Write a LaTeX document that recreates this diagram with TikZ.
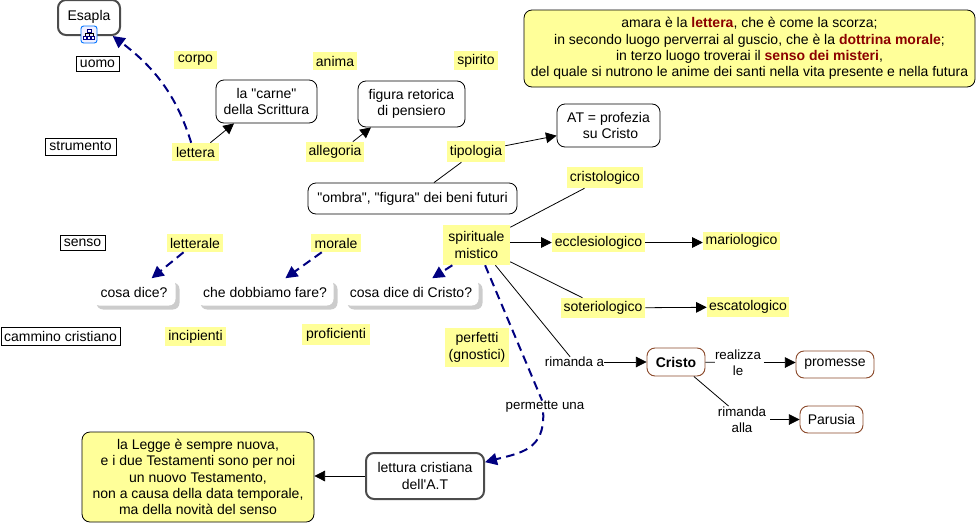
\documentclass[tikz,border=0pt]{standalone}
\usepackage{fontspec}
\setmainfont{Liberation Sans}[Ligatures=TeXOff]
\usetikzlibrary{arrows.meta, shadows, positioning}
\definecolor{noteyellow}{HTML}{FFFF99}
\definecolor{darkwine}{HTML}{8B0000}
\definecolor{rustline}{HTML}{8B4A2B}
\definecolor{navyline}{HTML}{000080}
\begin{document}
\begin{tikzpicture}[x=0.75pt, y=-0.75pt, font=\fontsize{10.5}{12.2}\selectfont,
boxsize/.style 2 args={minimum width=#1*0.75pt, minimum height=#2*0.75pt, inner sep=0pt, align=center},
tag/.style={fill=noteyellow},
frame/.style={draw=black, line width=0.6pt},
concept/.style={draw=black, rounded corners=6pt, line width=0.6pt},
main/.style={draw=black!70, rounded corners=6pt, line width=1.5pt},
person/.style={draw=rustline, rounded corners=6pt, line width=0.7pt},
note/.style={draw=black, fill=noteyellow, rounded corners=6pt, line width=0.6pt},
question/.style={fill=white, rounded corners=5pt, drop shadow={shadow xshift=3pt, shadow yshift=-3pt, fill=black!20, opacity=1}},
link/.style={inner sep=0pt, align=center, font=\fontsize{10}{12.4}\selectfont},
plain/.style={black, line width=0.6pt},
arrow/.style={plain, -{Triangle[length=8pt, width=8pt]}},
dashlink/.style={navyline, line width=1.5pt, dash pattern=on 6.5pt off 4pt},
darrow/.style={dashlink, -{Triangle[length=9pt, width=9pt, color=navyline]}}]
\useasboundingbox (0,0) rectangle (980,525);
\def\hl#1{\textcolor{darkwine}{\textbf{#1}}}
%left column
\node[main, boxsize={62}{35}] (esapla) at (89,17.5) {\raisebox{3pt}{Esapla}};
\node[frame, boxsize={43}{15}] (uomo) at (97.5,63.5) {uomo};
\node[frame, boxsize={71}{17}] (strumento) at (80.5,146.5) {strumento};
\node[frame, boxsize={45}{15}] (senso) at (82.5,242.5) {senso};
\node[frame, boxsize={119}{18}] (cammino) at (60.5,336) {cammino cristiano};
%icon on Esapla
\node[draw=blue!55!cyan, fill=blue!6, rounded corners=2pt, line width=0.7pt, boxsize={16}{17}] (esaplaicon) at (89,34.5) {};
\draw[black, line width=0.4pt] (85,33) -- (93,33) (89,30) -- (89,37) (85,33) -- (85,38) (93,33) -- (93,38);
\draw[navyline, fill=white, line width=0.4pt] (87,29) rectangle (91,32) (83.5,36) rectangle (86.5,39) (87.5,36) rectangle (90.5,39) (91.5,36) rectangle (94.5,39);
%row labels
\node[tag, boxsize={43}{18}] (corpo) at (195.5,60) {corpo};
\node[tag, boxsize={44}{18}] (anima) at (335,61) {anima};
\node[tag, boxsize={44}{19}] (spirito) at (476,60.5) {spirito};
\node[tag, boxsize={47}{18}] (lettera) at (195.5,152) {lettera};
\node[tag, boxsize={58}{20}] (allegoria) at (335,152) {allegoria};
\node[tag, boxsize={58}{21}] (tipologia) at (476,151.5) {tipologia};
\node[tag, boxsize={56}{18}] (letterale) at (195,243) {letterale};
\node[tag, boxsize={50}{18}] (morale) at (336,243) {morale};
\node[tag, boxsize={67}{40}] (spirituale) at (476.5,245) {spirituale\\mistico};
\node[tag, boxsize={61}{19}] (incipienti) at (195.5,336.5) {incipienti};
\node[tag, boxsize={68}{21}] (proficienti) at (336,334.5) {proficienti};
\node[tag, boxsize={64}{39}] (perfetti) at (477,347.5) {perfetti\\(gnostici)};
%concepts
\node[concept, boxsize={101}{43}] (carne) at (266.5,101.5) {la "carne"\\della Scrittura};
\node[concept, boxsize={107}{46}] (figura) at (411.5,104) {figura retorica\\di pensiero};
\node[concept, boxsize={103}{43}] (profezia) at (608.5,125.5) {AT = profezia\\\ su Cristo};
\node[concept, boxsize={209}{31}] (ombra) at (412.5,198.5) {"ombra", "figura" dei beni futuri};
\node[note, boxsize={451}{77}] (scorza) at (749.5,48.5) {amara è la \hl{lettera}, che è come la scorza;\\in secondo luogo perverrai al guscio, che è la \hl{dottrina morale};\\in terzo luogo troverai il \hl{senso dei misteri},\\del quale si nutrono le anime dei santi nella vita presente e nella futura};
%branches of the spiritual sense
\node[tag, boxsize={76}{21}] (cristologico) at (605,177.5) {cristologico};
\node[tag, boxsize={93}{19}] (ecclesiologico) at (598.5,242.5) {ecclesiologico};
\node[tag, boxsize={77}{18}] (mariologico) at (741.5,241) {mariologico};
\node[tag, boxsize={84}{20}] (soteriologico) at (603,308) {soteriologico};
\node[tag, boxsize={82}{20}] (escatologico) at (748,307) {escatologico};
%questions
\node[question, boxsize={83}{27}] (dice) at (134,292) {cosa dice?};
\node[question, boxsize={137}{27}] (fare) at (265,292) {che dobbiamo fare?};
\node[question, boxsize={135}{27}] (dicecristo) at (411,292) {cosa dice di Cristo?};
%lower right
\node[link] (rimandaa) at (574.5,362) {rimanda a};
\node[person, boxsize={58}{28}] (cristo) at (676,362) {\textbf{Cristo}};
\node[link] (realizza) at (738,362.5) {realizza\\le};
\node[person, boxsize={78}{27}] (promesse) at (835,364.5) {promesse};
\node[link] (rimandaalla) at (742,419.5) {rimanda\\alla};
\node[person, boxsize={63}{27}] (parusia) at (831.5,419.5) {Parusia};
\node[link] (permette) at (545,406.5) {permette una};
\node[main, boxsize={118}{46}] (lettura) at (425,476) {lettura cristiana\\dell'A.T};
\node[note, boxsize={232}{90}] (legge) at (198,477) {la Legge è sempre nuova,\\e i due Testamenti sono per noi\\un nuovo Testamento,\\non a causa della data temporale,\\ma della novità del senso};
%connectors
\draw[darrow] (lettera.115) .. controls (178,100) and (158,70) .. (esapla.-38);
\draw[arrow] (lettera.32) -- (carne.-146);
\draw[arrow] (allegoria.30) -- (figura.-150);
\draw[arrow] (tipologia) -- (profezia);
\draw[plain] (tipologia) -- (ombra);
\draw[darrow] (letterale.-141) -- (dice.38);
\draw[darrow] (morale.-147) -- (fare.34);
\draw[darrow] (spirituale.-140) -- (dicecristo.33);
\draw[plain] (spirituale) -- (cristologico);
\draw[arrow] (spirituale.east |- ecclesiologico) -- (ecclesiologico);
\draw[arrow] (ecclesiologico) -- (ecclesiologico -| mariologico.west);
\draw[plain] (spirituale) -- (soteriologico);
\draw[arrow] (soteriologico) -- (escatologico);
\draw[plain] (spirituale.-47) -- (rimandaa.130);
\draw[arrow] (rimandaa) -- (cristo);
\draw[plain] (cristo) -- (realizza);
\draw[arrow, shorten <=2pt] (realizza) -- (realizza -| promesse.west);
\draw[plain] (cristo.-39) -- (rimandaalla.135);
\draw[arrow, shorten <=3pt] (rimandaalla) -- (parusia);
\draw[dashlink] (spirituale.-67) -- (permette.116);
\draw[darrow] (permette.-107) .. controls (545,450) and (520,453) .. (lettura.13);
\draw[arrow] (lettura) -- (lettura -| legge.east);
\end{tikzpicture}
\end{document}
